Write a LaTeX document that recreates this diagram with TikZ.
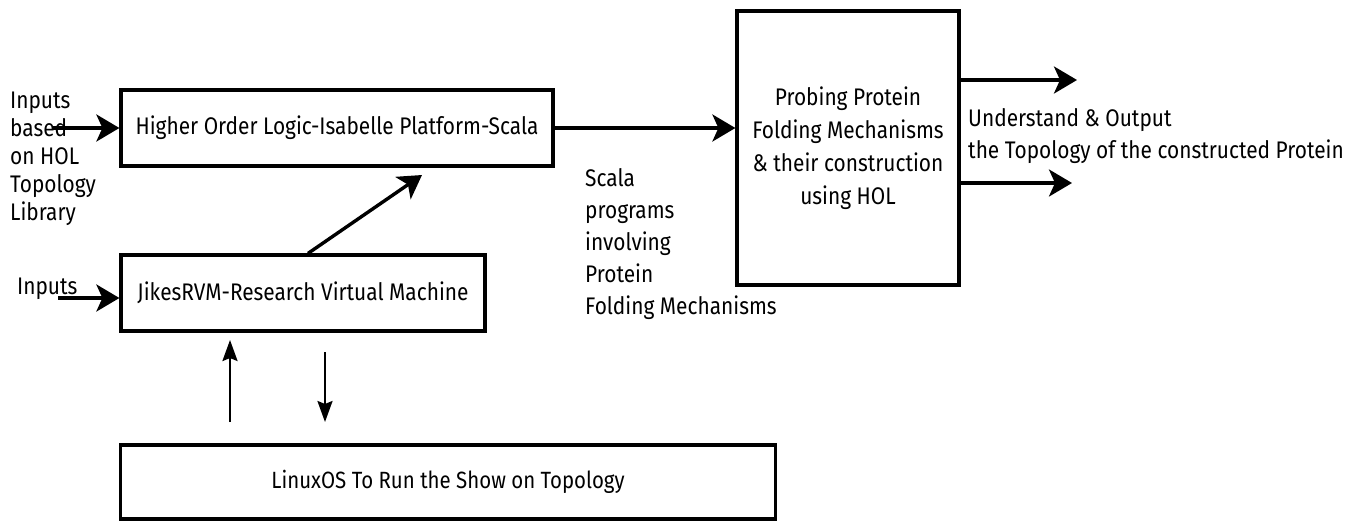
\documentclass[tikz,border=0pt]{standalone}
\usepackage{fontspec}
\setmainfont[FakeStretch=0.87]{Fira Sans}
\usepackage{tikz}
\usetikzlibrary{positioning, arrows.meta, calc}

\begin{document}
\begin{tikzpicture}[x=1pt, y=-1pt,
    box/.style={draw, line width=3.2pt, align=center, inner sep=4pt,
                font=\fontsize{24}{33}\selectfont},
    lbl/.style={inner sep=0pt, align=left, font=\fontsize{24}{32}\selectfont},
    arr/.style={line width=3.4pt, -{Stealth[length=23pt, width=27pt, inset=6pt]}},
    thinarr/.style={line width=2.4pt, -{Stealth[length=21pt, width=15pt, inset=3pt]}}]
  \useasboundingbox (0,0) rectangle (1356,520);

  % boxes
  \node[box, minimum width=432pt, minimum height=76pt] (hol) at (337,128)
    {Higher Order Logic-Isabelle Platform-Scala};
  \node[box, minimum width=364pt, minimum height=76pt] (jikes) at (303,293)
    {JikesRVM-Research Virtual Machine};
  \node[box, minimum width=655pt, minimum height=74pt] (linux) at (448,482)
    {\fontsize{23.5}{33}\selectfont LinuxOS To Run the Show on Topology};
  \node[box, minimum width=222pt, minimum height=274pt] (probe) at (848,148)
    {Probing Protein\\Folding Mechanisms\\\& their construction\\using HOL};

  % labels
  \node[lbl, anchor=north west, font=\fontsize{24}{28}\selectfont] (inlbl) at (10,92)
    {Inputs\\based\\on HOL\\Topology\\Library};
  \node[lbl, anchor=north west] (in2lbl) at (17,278) {Inputs};
  \node[lbl, anchor=north west] (scala) at (585,168)
    {Scala\\programs\\involving\\Protein\\Folding Mechanisms};
  \node[lbl, anchor=north west] (outlbl) at (968,108)
    {Understand \& Output\\the Topology of the constructed Protein};

  % free ends
  \coordinate (in1) at (52,128);
  \coordinate (in2) at (58,298);
  \coordinate (out1) at (1077,80);
  \coordinate (out2) at (1072,183);
  \coordinate (d0) at (308,0);
  \coordinate (d1) at (422,175);
  \coordinate (os1) at (230,422);
  \coordinate (vm1) at (230,340);
  \coordinate (vm2) at (325,352);
  \coordinate (os2) at (325,422);

  % connectors
  \draw[arr] (in1) -- (hol.west);
  \draw[arr] (in2) -- (in2 -| jikes.west);
  \draw[arr] (hol.east) -- (hol.east -| probe.west);
  \draw[arr] (out1 -| probe.east) -- (out1);
  \draw[arr] (out2 -| probe.east) -- (out2);
  \draw[arr] (jikes.north -| d0) -- (d1);
  \draw[thinarr] (os1) -- (vm1);
  \draw[thinarr] (vm2) -- (os2);
\end{tikzpicture}
\end{document}
